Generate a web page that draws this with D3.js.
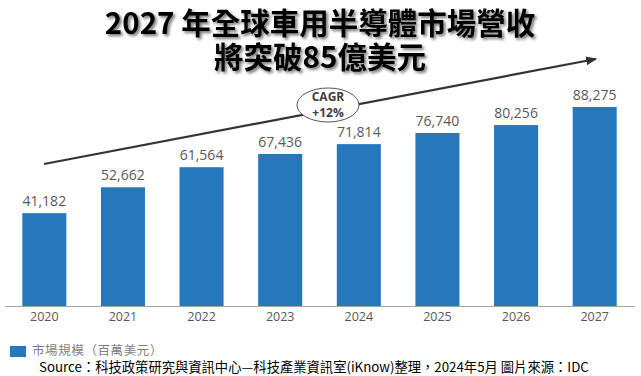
<!DOCTYPE html>
<html><head><meta charset="utf-8">
<script src="https://cdn.jsdelivr.net/npm/d3@7"></script>
<style>body{margin:0;background:#fff}svg{display:block}</style>
</head><body>
<script>
const years = ["2020","2021","2022","2023","2024","2025","2026","2027"];
const values = [41182,52662,61564,67436,71814,76740,80256,88275];
const titleLines = ["2027 年全球車用半導體市場營收","將突破85億美元"];
const legendLabel = "市場規模（百萬美元）";
const sourceText = "Source：科技政策研究與資訊中心—科技產業資訊室(iKnow)整理，2024年5月 圖片來源：IDC";
const cagrLines = ["CAGR","+12%"];

const W=641,H=376;
const svg=d3.select("body").append("svg").attr("width",W).attr("height",H);
const defs=svg.append("defs");
const f=defs.append("filter").attr("id","sh").attr("x","-10%").attr("y","-40%").attr("width","120%").attr("height","180%");
f.append("feDropShadow").attr("dx",2).attr("dy",2).attr("stdDeviation",1.6).attr("flood-color","#000").attr("flood-opacity",0.55);
const m=defs.append("marker").attr("id","arr").attr("viewBox","0 0 10 10").attr("refX",9).attr("refY",5)
 .attr("markerWidth",5).attr("markerHeight",5).attr("orient","auto");
m.append("path").attr("d","M0,1L10,5L0,9Z").attr("fill","#333");

const x=d3.scaleBand().domain(years).range([5,634]).paddingInner(0.44).paddingOuter(0.22);
const y=d3.scaleLinear().domain([0,88275]).range([306,107]);

// title
const tfont="'Noto Sans CJK TC','Noto Sans CJK SC',sans-serif";
svg.selectAll("text.title").data(titleLines).join("text").attr("class","title")
 .attr("x",320).attr("y",(d,i)=>i?68:34).attr("text-anchor","middle")
 .attr("font-family",tfont).attr("font-weight","bold").attr("font-size",29.5)
 .attr("fill","#000").attr("filter","url(#sh)").text(d=>d);

// bars
svg.selectAll("rect.bar").data(values).join("rect").attr("class","bar")
 .attr("x",(d,i)=>x(years[i])).attr("width",x.bandwidth())
 .attr("y",d=>y(d)).attr("height",d=>y(0)-y(d)).attr("fill","#2677bb");

svg.selectAll("text.val").data(values).join("text").attr("class","val")
 .attr("x",(d,i)=>x(years[i])+x.bandwidth()/2).attr("y",d=>y(d)-7)
 .attr("text-anchor","middle").attr("font-family","'Open Sans',sans-serif").attr("font-size",14)
 .attr("fill","#595959").text(d=>d3.format(",")(d));

// axis
const ax=svg.append("g").attr("transform","translate(0,306)").call(d3.axisBottom(x).tickSize(0).tickPadding(6));
ax.select(".domain").attr("stroke","#a6a6a6").attr("stroke-width",1.2);
ax.selectAll("text").attr("font-family","'Open Sans',sans-serif").attr("font-size",12.5).attr("fill","#595959");

// trend arrow
svg.append("line").attr("x1",44).attr("y1",164).attr("x2",596).attr("y2",59)
 .attr("stroke","#333").attr("stroke-width",2.2).attr("marker-end","url(#arr)");
svg.append("ellipse").attr("cx",328).attr("cy",105).attr("rx",31).attr("ry",17)
 .attr("fill","#fff").attr("stroke","#555").attr("stroke-width",1);
svg.selectAll("text.cagr").data(cagrLines).join("text").attr("class","cagr")
 .attr("x",328).attr("y",(d,i)=>i?117:101).attr("text-anchor","middle")
 .attr("font-family","'Open Sans',sans-serif").attr("font-weight","bold").attr("font-size",12)
 .attr("fill","#404040").text(d=>d);

// legend
svg.append("rect").attr("x",10).attr("y",346).attr("width",16).attr("height",11).attr("fill","#2677bb");
svg.append("text").attr("x",32).attr("y",355).attr("font-family",tfont).attr("font-size",12.5)
 .attr("fill","#7f7f7f").attr("letter-spacing",0.6).text(legendLabel);
// source
svg.append("text").attr("x",39).attr("y",372).attr("font-family",tfont).attr("font-size",13.3)
 .attr("fill","#000").text(sourceText);
</script>
</body></html>
